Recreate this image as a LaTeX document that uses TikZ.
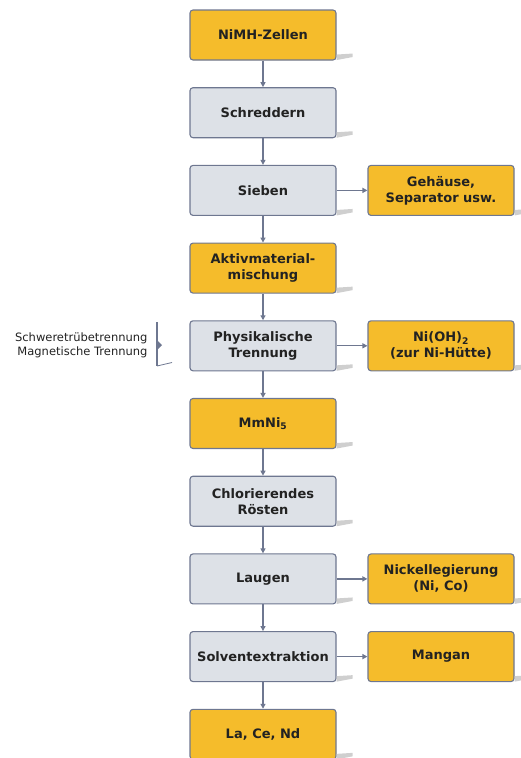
\documentclass[tikz,border=0pt]{standalone}
\usepackage{fontspec}
\setmainfont{DejaVu Sans}
\usetikzlibrary{arrows.meta,positioning}
\definecolor{boxorange}{HTML}{F5BC2B}
\definecolor{boxgrey}{HTML}{DDE1E7}
\definecolor{boxline}{HTML}{6E7790}
\definecolor{boxtext}{HTML}{222222}
\definecolor{shadowgrey}{HTML}{CFCFCF}
\tikzset{
  stage/.style={rectangle,rounded corners=3pt,draw=boxline,line width=1.1pt,
    minimum width=146pt,minimum height=50pt,inner sep=2pt,align=center,
    text=boxtext,font=\fontsize{13}{16}\selectfont\bfseries},
  product/.style={stage,fill=boxorange},
  process/.style={stage,fill=boxgrey},
  flow/.style={->,draw=boxline,line width=1.2pt,>={Triangle[length=5pt,width=5pt]}}
}
\begin{document}
\begin{tikzpicture}[x=1pt,y=1pt,node distance=77.7pt,on grid]
  \useasboundingbox (0,0) rectangle (520,-758);

  % main column
  \node[product] (zellen) at (263,-35) {NiMH-Zellen};
  \node[process] (schred) [below=of zellen] {Schreddern};
  \node[process] (sieben) [below=of schred] {Sieben};
  \node[product] (aktiv)  [below=of sieben] {Aktivmaterial-\\mischung};
  \node[process] (phys)   [below=of aktiv]  {Physikalische\\Trennung};
  \node[product] (mmni)   [below=of phys]   {MmNi\textsubscript{5}};
  \node[process] (roest)  [below=of mmni]   {Chlorierendes\\Rösten};
  \node[process] (laugen) [below=of roest]  {Laugen};
  \node[process] (solv)   [below=of laugen] {Solventextraktion};
  \node[product] (lacend) [below=of solv]   {La, Ce, Nd};

  % side products
  \node[product] (gehaeuse) [right=178pt of sieben] {Gehäuse,\\Separator usw.};
  \node[product] (nioh)     [right=178pt of phys]   {Ni(OH)\textsubscript{2}\\(zur Ni-Hütte)};
  \node[product] (nilegier) [right=178pt of laugen] {Nickellegierung\\(Ni, Co)};
  \node[product] (mangan)   [right=178pt of solv]   {Mangan};

  % shadows
  \foreach \n in {zellen,schred,sieben,aktiv,phys,mmni,roest,laugen,solv,lacend,gehaeuse,nioh,nilegier,mangan}
    \fill[shadowgrey] ([yshift=6pt]\n.south east) -- ++(16,1) -- ++(0,-3.5) -- ([yshift=0.5pt]\n.south east) -- cycle;

  % method note
  \node[anchor=east,align=right,text=boxtext,font=\fontsize{11.5}{14}\selectfont] (methods) at (151,-345)
    {Schweretrübetrennung\\Magnetische Trennung};
  \coordinate (brtop) at (157,-322);
  \coordinate (brbot) at (157,-366);
  \draw[boxline,line width=1.2pt] (brtop) -- (brbot);
  \draw[boxline,line width=0.8pt] (brbot) -- ++(15,3.5);
  \fill[boxline] (157,-340) -- (162,-345) -- (157,-350) -- cycle;

  % connectors
  \foreach \a/\b in {zellen/schred,schred/sieben,sieben/aktiv,aktiv/phys,phys/mmni,mmni/roest,roest/laugen,laugen/solv,solv/lacend}
    \draw[flow] (\a) -- (\b);
  \foreach \a/\b in {sieben/gehaeuse,phys/nioh,laugen/nilegier,solv/mangan}
    \draw[flow] (\a) -- (\b);
\end{tikzpicture}
\end{document}
